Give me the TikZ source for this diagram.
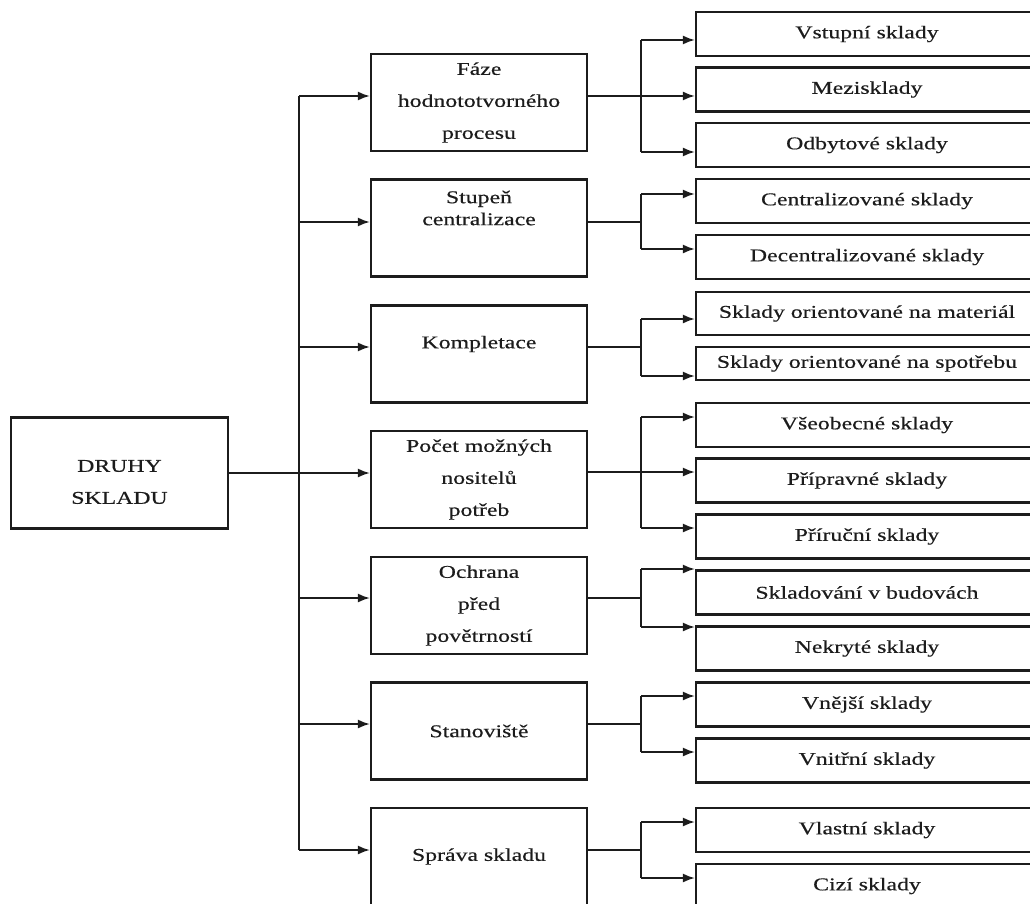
\documentclass[tikz,border=0pt]{standalone}
\usepackage{fontspec}
\setmainfont{Liberation Serif}[FakeBold=0.4]
\usetikzlibrary{arrows.meta,calc}
\definecolor{ink}{RGB}{28,28,28}
\newcommand\st[1]{\scalebox{1.32}[1]{#1}}
\begin{document}
\begin{tikzpicture}[x=1pt,y=1pt,
  box/.style={draw=ink,line width=2.2pt,inner sep=0pt,text=ink,align=center,
    font=\fontsize{18}{32}\selectfont},
  midbox/.style={box,minimum width=216pt,minimum height=97pt},
  rbox/.style={box,minimum width=342pt,minimum height=44pt},
  txt/.style={text=ink,inner sep=0pt,align=center,font=\fontsize{18}{32}\selectfont},
  conn/.style={draw=ink,line width=1.8pt},
  arr/.style={conn,-{Latex[length=12pt,width=9pt]}},
]
\useasboundingbox (0,0) rectangle (1030,-904);
\clip (0,0) rectangle (1030,-904);

% root
\node[box,minimum width=217pt,minimum height=111pt] (d) at (119.5,-473) {};
\node[txt] (dt) at (119.5,-482) {\st{DRUHY}\\\st{SKLADU}};

% middle column
\node[midbox] (m1) at (479,-102.5) {\st{Fáze}\\\st{hodnototvorného}\\\st{procesu}};
\node[midbox] (m2) at (479,-228) {};
\node[txt,font=\fontsize{18}{22}\selectfont] (m2t) at (479,-208) {\st{Stupeň}\\\st{centralizace}};
\node[midbox] (m3) at (479,-354) {};
\node[txt] (m3t) at (479,-344) {\st{Kompletace}};
\node[midbox] (m4) at (479,-479.5) {\st{Počet možných}\\\st{nositelů}\\\st{potřeb}};
\node[midbox] (m5) at (479,-605.5) {\st{Ochrana}\\\st{před}\\\st{povětrností}};
\node[midbox] (m6) at (479,-731) {\st{Stanoviště}};
\node[midbox] (m7) at (479,-856.5) {\st{Správa skladu}};

% right column
\node[rbox] (r1) at (867,-34) {\st{Vstupní sklady}};
\node[rbox] (r2) at (867,-89.5) {\st{Mezisklady}};
\node[rbox] (r3) at (867,-145) {\st{Odbytové sklady}};
\node[rbox] (r4) at (867,-201) {\st{Centralizované sklady}};
\node[rbox] (r5) at (867,-257) {\st{Decentralizované sklady}};
\node[rbox,minimum height=43pt] (r6) at (867,-313.5) {\st{Sklady orientované na materiál}};
\node[rbox,minimum height=33pt] (r7) at (867,-363.5) {\st{Sklady orientované na spotřebu}};
\node[rbox] (r8) at (867,-425) {\st{Všeobecné sklady}};
\node[rbox] (r9) at (867,-480.5) {\st{Přípravné sklady}};
\node[rbox] (r10) at (867,-536.5) {\st{Příruční sklady}};
\node[rbox] (r11) at (867,-592.5) {\st{Skladování v budovách}};
\node[rbox] (r12) at (867,-648.5) {\st{Nekryté sklady}};
\node[rbox] (r13) at (867,-704.5) {\st{Vnější sklady}};
\node[rbox] (r14) at (867,-760.5) {\st{Vnitřní sklady}};
\node[rbox] (r15) at (867,-830) {\st{Vlastní sklady}};
\node[rbox] (r16) at (867,-886) {\st{Cizí sklady}};

% trunk
\coordinate (tt) at (299,-96);
\coordinate (tb) at (299,-850);
\draw[conn] (tt) -- (tb);
\draw[arr] (d.east) -- (m4.west |- d.east);
\foreach \m/\y in {1/96,2/222,3/347,5/598,6/724,7/850}
  \draw[arr] (tt |- 0,-\y) -- (m\m.west |- 0,-\y);

% branches
\foreach \m/\y/\ta/\tb in {1/96/40/152, 2/222/194/249, 3/347/319/376, 4/472/417/528,
    5/598/569/627, 6/724/696/752, 7/850/822/878} {
  \draw[conn] (m\m.east |- 0,-\y) -- (641,-\y);
  \draw[conn] (641,-\ta) -- (641,-\tb);
}
\foreach \r/\y in {1/40,2/96,3/152,4/194,5/249,6/319,7/376,8/417,9/472,10/528,
    11/569,12/627,13/696,14/752,15/822,16/878}
  \draw[arr] (641,-\y) -- (r\r.west |- 0,-\y);
\end{tikzpicture}
\end{document}
